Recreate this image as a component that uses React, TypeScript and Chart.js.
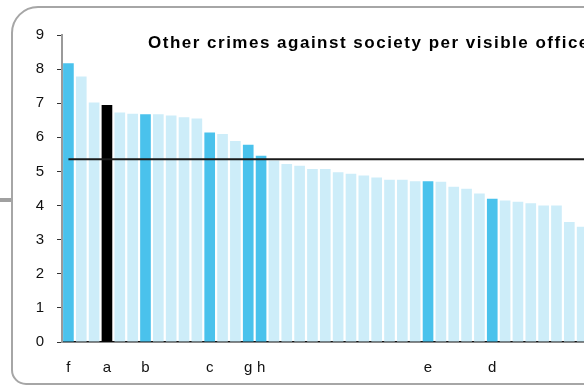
import React, { useEffect, useRef } from "react";
import { Chart, registerables } from "chart.js";

Chart.register(...registerables);

const TITLE = "Other crimes against society per visible officer";

// Category labels (only some bars are labelled); the final slot is beyond the visible frame
const LABELS = [
  "f", "", "", "a", "", "", "b", "", "", "", "",
  "c", "", "", "g", "h", "", "", "", "", "",
  "", "", "", "", "", "", "", "e", "", "",
  "", "", "d", "", "", "", "", "", "", "", "",
];

const VALUES = [
  8.17, 7.78, 7.02, 6.95, 6.73, 6.69, 6.68, 6.68, 6.64, 6.59, 6.55,
  6.14, 6.10, 5.89, 5.78, 5.46, 5.32, 5.22, 5.17, 5.07, 5.07,
  4.98, 4.93, 4.88, 4.82, 4.76, 4.76, 4.71, 4.71, 4.70, 4.55,
  4.49, 4.35, 4.20, 4.15, 4.11, 4.07, 4.00, 4.00, 3.52, 3.38,
];

const AVERAGE = 5.36;

const Y_MIN = 0;
const Y_MAX = 9;
const Y_STEP = 1;

const SELECTED = "a";
const HIGHLIGHT = "#4ac2ec";
const LIGHT = "#cdedf9";

const titlePlugin = {
  id: "innerTitle",
  afterDraw(chart: any) {
    const { ctx, chartArea } = chart;
    ctx.save();
    ctx.font = 'bold 17px "Liberation Sans", Arial, sans-serif';
    try {
      (ctx as any).letterSpacing = "1.5px";
    } catch (e) {}
    ctx.fillStyle = "#000";
    ctx.textBaseline = "alphabetic";
    ctx.textAlign = "left";
    ctx.fillText(TITLE, chartArea.left + 86, chartArea.top + 13);
    ctx.restore();
  },
};

export default function App() {
  const ref = useRef<HTMLCanvasElement | null>(null);

  useEffect(() => {
    if (!ref.current) return;
    Chart.defaults.font.family = '"Liberation Sans", Arial, sans-serif';
    const colors = VALUES.map((_, i) =>
      LABELS[i] === SELECTED ? "#000000" : LABELS[i] ? HIGHLIGHT : LIGHT
    );
    const chart = new Chart(ref.current, {
      data: {
        labels: LABELS,
        datasets: [
          {
            type: "line",
            data: LABELS.map(() => AVERAGE),
            borderColor: "#1a1a1a",
            borderWidth: 2,
            pointRadius: 0,
            tension: 0,
            order: 0,
          } as any,
          {
            type: "bar",
            data: VALUES,
            backgroundColor: colors,
            borderWidth: 0,
            barPercentage: 0.83,
            categoryPercentage: 1,
            order: 1,
          } as any,
        ],
      },
      options: {
        animation: false,
        responsive: false,
        events: [],
        layout: { padding: { top: 35, left: 0, right: 0, bottom: 0 } },
        plugins: {
          legend: { display: false },
          tooltip: { enabled: false },
          title: { display: false },
        },
        scales: {
          x: {
            type: "category",
            offset: true,
            grid: { display: false, drawTicks: false },
            border: { display: true, color: "#111", width: 1.5 },
            ticks: {
              autoSkip: false,
              maxRotation: 0,
              minRotation: 0,
              padding: 17,
              color: "#111",
              font: { size: 15 },
            },
            afterFit: (s: any) => {
              s.height = 45;
            },
          },
          y: {
            min: Y_MIN,
            max: Y_MAX,
            ticks: {
              stepSize: Y_STEP,
              padding: 13,
              color: "#111",
              font: { size: 15 },
            },
            grid: {
              drawOnChartArea: false,
              drawTicks: true,
              tickLength: 5,
              color: "#333",
              lineWidth: 1,
            },
            border: { display: true, color: "#9a9a9a", width: 2 },
            afterFit: (s: any) => {
              s.width = 62;
            },
          },
        },
      } as any,
      plugins: [titlePlugin],
    });
    return () => chart.destroy();
  }, []);

  return (
    <div
      style={{
        position: "fixed",
        left: 0,
        top: 0,
        width: 584,
        height: 387,
        overflow: "hidden",
        background: "#fff",
      }}
    >
      <div
        style={{
          position: "absolute",
          left: 0,
          top: 198,
          width: 11,
          height: 4,
          background: "#a0a0a0",
        }}
      />
      <div
        style={{
          position: "absolute",
          left: 11,
          top: 6,
          width: 700,
          height: 375,
          border: "2px solid #a6a6a6",
          borderRadius: "27px 27px 27px 15px",
          boxSizing: "content-box",
        }}
      />
      <canvas
        ref={ref}
        width={612}
        height={387}
        style={{ position: "absolute", left: 0, top: 0, width: 612, height: 387 }}
      />
    </div>
  );
}
